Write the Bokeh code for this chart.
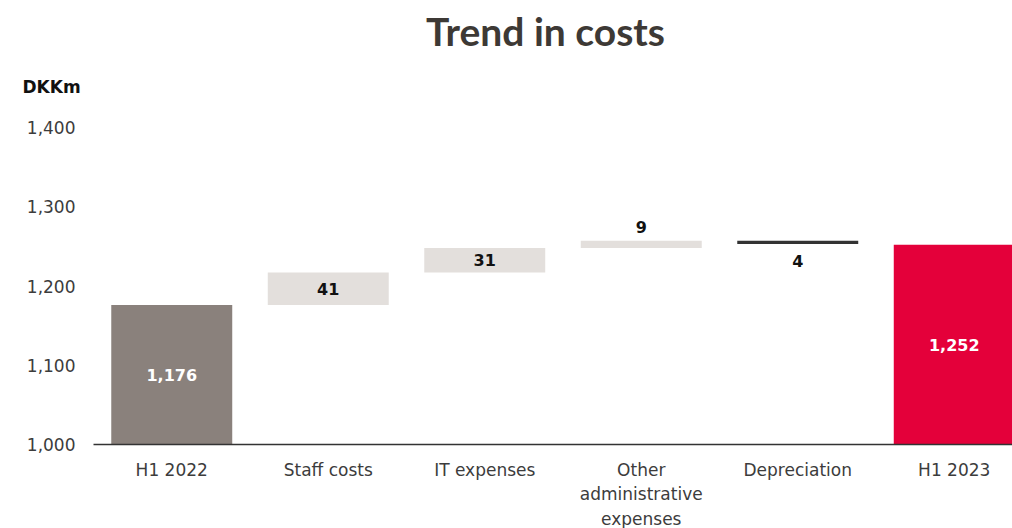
from bokeh.plotting import figure
from bokeh.models import ColumnDataSource, Range1d, Label
from bokeh.core.properties import value
from bokeh.embed import file_html
from bokeh.resources import INLINE

categories = ["H1 2022", "Staff costs", "IT expenses", "Other\nadministrative\nexpenses", "Depreciation", "H1 2023"]
values = [1176, 41, 31, 9, -4, 1252]
is_total = [True, False, False, False, False, True]
labels = ["1,176", "41", "31", "9", "4", "1,252"]
y_ticks = [1000, 1100, 1200, 1300, 1400]
y_tick_labels = ["1,000", "1,100", "1,200", "1,300", "1,400"]

AXIS_MIN = 1000
FONT = "DejaVu Sans"
TITLE_FONT = "Lato"
colors_map = {"start": "#8a817c", "up": "#e3dfdc", "down": "#333333", "end": "#e4003a"}

# layout (pixels)
W, H = 1012, 528
px_per_cat = 156.5
px_per_unit = 0.7925
axis_left_px = 93
axis_bottom_px = 84   # distance from canvas bottom to the baseline

xs = list(range(len(categories)))
bottoms, tops, colors, label_y, label_off, label_col = [], [], [], [], [], []
running = 0
for i, (v, tot) in enumerate(zip(values, is_total)):
    if tot:
        b, t = AXIS_MIN, v
        running = v
        colors.append(colors_map["start"] if i == 0 else colors_map["end"])
        label_y.append((AXIS_MIN + v) / 2)
        label_off.append(0)
        label_col.append("white")
    else:
        lo, hi = sorted((running, running + v))
        running = running + v
        b, t = lo, hi
        colors.append(colors_map["up"] if v > 0 else colors_map["down"])
        if abs(v) < 15:
            if v > 0:
                label_y.append(hi)
                label_off.append(-14)
            else:
                label_y.append(lo)
                label_off.append(17)
        else:
            label_y.append((lo + hi) / 2)
            label_off.append(0)
        label_col.append("#111111")
    bottoms.append(b)
    tops.append(t)

src = ColumnDataSource(dict(x=xs, bottom=bottoms, top=tops, color=colors,
                            ly=label_y, loff=label_off, lcol=label_col, text=labels))

x_start = -0.5 - axis_left_px / px_per_cat
x_end = x_start + W / px_per_cat
y_start = AXIS_MIN - axis_bottom_px / px_per_unit
y_end = y_start + H / px_per_unit

p = figure(width=W, height=H, output_backend="svg", toolbar_location=None,
           x_range=Range1d(x_start, x_end), y_range=Range1d(y_start, y_end),
           min_border=0)
p.xaxis.visible = False
p.yaxis.visible = False
p.outline_line_color = None
p.grid.visible = False
p.background_fill_color = "white"
p.border_fill_color = "white"

# bars
p.vbar(x="x", bottom="bottom", top="top", width=0.773, color="color", line_color=None, source=src)
p.text(x="x", y="ly", text="text", y_offset="loff", text_color="lcol", source=src,
       text_align="center", text_baseline="middle", text_font=value(FONT),
       text_font_style="bold", text_font_size="16px")

# x baseline
p.segment(x0=[-0.5], y0=[AXIS_MIN], x1=[x_end], y1=[AXIS_MIN], line_color="#333333", line_width=1.5)

# x category labels
p.text(x=xs, y=[AXIS_MIN] * len(xs), text=categories, y_offset=15,
       text_align="center", text_baseline="top", text_font=value(FONT),
       text_font_size="17px", text_color="#3c3c3c", text_line_height=1.23)

# y tick labels
p.text(x=[-0.5] * len(y_ticks), y=y_ticks, text=y_tick_labels, x_offset=-18,
       text_align="right", text_baseline="middle", text_font=value(FONT),
       text_font_size="17px", text_color="#3c3c3c")

p.add_layout(Label(x=545, y=H - 30, x_units="screen", y_units="screen", text="Trend in costs",
                   text_align="center", text_baseline="middle", text_font=TITLE_FONT,
                   text_font_style="bold", text_font_size="39px", text_color="#3d3935"))
p.add_layout(Label(x=22, y=H - 86, x_units="screen", y_units="screen", text="DKKm",
                   text_align="left", text_baseline="middle", text_font=FONT,
                   text_font_style="bold", text_font_size="17px", text_color="#111111"))

open("out.html", "w").write(file_html(p, INLINE))
